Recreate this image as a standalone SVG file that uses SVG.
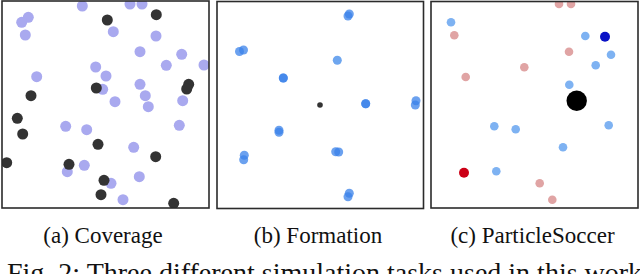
<svg xmlns="http://www.w3.org/2000/svg" width="640" height="274" viewBox="0 0 640 274">
<style>
.frame{fill:none;stroke:#2b2b2b;stroke-width:1.6}
.cv{fill:#a9a9ef}
.dk{fill:#333333}
.fm{fill:#3a82ea;fill-opacity:0.75}
.fl{fill:#6ea6ef}
.sb{fill:#7eb2f2}
.sp{fill:#e0a4a4}
.cap{font-family:'Liberation Serif','Times New Roman',serif;font-size:23px;fill:#111}
.fig{font-family:'Liberation Serif','Times New Roman',serif;font-size:28px;fill:#111}
</style>
<rect width="640" height="274" fill="#fff"/>
<g id="panel-coverage">
<defs><clipPath id="ca"><rect x="2" y="1" width="207" height="207"/></clipPath></defs>
<g clip-path="url(#ca)">
<g class="cv">
<circle cx="82.3" cy="6" r="5.5"/><circle cx="130" cy="4" r="5.5"/><circle cx="142" cy="4" r="5.5"/>
<circle cx="28.3" cy="17.3" r="5.5"/><circle cx="21.7" cy="22.3" r="5.5"/><circle cx="25.3" cy="35" r="5.5"/>
<circle cx="113.3" cy="31.7" r="5.5"/><circle cx="156" cy="36" r="5.5"/><circle cx="140" cy="51.7" r="5.5"/>
<circle cx="181.7" cy="54.3" r="5.5"/><circle cx="166.3" cy="65.3" r="5.5"/><circle cx="204" cy="65" r="5.5"/>
<circle cx="95.7" cy="67" r="5.5"/><circle cx="36.7" cy="76.7" r="5.5"/><circle cx="106" cy="76" r="5.5"/>
<circle cx="140" cy="84.3" r="5.5"/><circle cx="102.7" cy="89.3" r="5.5"/><circle cx="145.3" cy="95.7" r="5.5"/>
<circle cx="115" cy="101.7" r="5.5"/><circle cx="148.3" cy="106.7" r="5.5"/><circle cx="182.7" cy="100.7" r="5.5"/>
<circle cx="65.7" cy="126.3" r="5.5"/><circle cx="86.7" cy="129.7" r="5.5"/><circle cx="179.3" cy="125.3" r="5.5"/>
<circle cx="133.7" cy="147.3" r="5.5"/><circle cx="84.3" cy="165.3" r="5.5"/><circle cx="67.3" cy="171.7" r="5.5"/>
<circle cx="139.3" cy="176.7" r="5.5"/><circle cx="111" cy="183.3" r="5.5"/><circle cx="123" cy="199.7" r="5.5"/>
</g>
<g class="dk">
<circle cx="107.3" cy="20" r="5.5"/><circle cx="156.3" cy="14.7" r="5.5"/><circle cx="188.7" cy="84.3" r="5.5"/>
<circle cx="186.7" cy="89" r="5.5"/><circle cx="96.3" cy="88" r="5.5"/><circle cx="31" cy="95.7" r="5.5"/>
<circle cx="17.3" cy="118.3" r="5.5"/><circle cx="22.7" cy="134" r="5.5"/><circle cx="98" cy="144.3" r="5.5"/>
<circle cx="155.7" cy="156.7" r="5.5"/><circle cx="6.7" cy="162.7" r="5.5"/><circle cx="69" cy="164.3" r="5.5"/>
<circle cx="104" cy="180.3" r="5.5"/><circle cx="101" cy="194.7" r="5.5"/><circle cx="173.7" cy="203.3" r="5.5"/>
</g>
</g>
<rect class="frame" x="2" y="1" width="207" height="207"/>
</g>
<g id="panel-formation">
<g class="fm">
<circle cx="348" cy="16" r="4.5"/><circle cx="349.3" cy="14" r="4.5"/>
<circle cx="239.5" cy="51.5" r="4.5"/><circle cx="243.5" cy="50" r="4.5"/>
<circle cx="283.3" cy="78" r="4.5"/><circle cx="283.3" cy="78" r="4.5"/>
<circle cx="365.7" cy="103.7" r="4.5"/><circle cx="365.7" cy="103.7" r="4.5"/>
<circle cx="416" cy="100.7" r="4.5"/><circle cx="415.3" cy="105" r="4.5"/>
<circle cx="279" cy="130.3" r="4.5"/><circle cx="279" cy="132.3" r="4.5"/>
<circle cx="244.3" cy="155.3" r="4.5"/><circle cx="243.7" cy="159.7" r="4.5"/>
<circle cx="335.7" cy="151.7" r="4.5"/><circle cx="338.7" cy="152" r="4.5"/>
<circle cx="349.3" cy="193.3" r="4.5"/><circle cx="348" cy="196.7" r="4.5"/>
</g>
<circle class="fl" cx="337.3" cy="60.3" r="4.5"/>
<circle class="dk" cx="320" cy="105" r="2.8"/>
<rect class="frame" x="217" y="1.5" width="206.5" height="207"/>
</g>
<g id="panel-soccer">
<defs><clipPath id="cc"><rect x="431" y="1" width="207" height="207"/></clipPath></defs>
<g clip-path="url(#cc)">
<g class="sp">
<circle cx="559" cy="4" r="4.3"/><circle cx="571" cy="4" r="4.3"/><circle cx="454.3" cy="35.3" r="4.3"/>
<circle cx="569" cy="51.7" r="4.3"/><circle cx="524.3" cy="67.3" r="4.3"/><circle cx="465.7" cy="77" r="4.3"/>
<circle cx="539.7" cy="183.3" r="4.3"/><circle cx="552.3" cy="199.7" r="4.3"/>
</g>
<g class="sb">
<circle cx="451" cy="22.3" r="4.3"/><circle cx="585.3" cy="36" r="4.3"/><circle cx="611" cy="54.7" r="4.3"/>
<circle cx="595.7" cy="65.3" r="4.3"/><circle cx="569.3" cy="84.7" r="4.3"/><circle cx="608.7" cy="125.3" r="4.3"/>
<circle cx="494.3" cy="126.3" r="4.3"/><circle cx="515.7" cy="129.3" r="4.3"/><circle cx="563" cy="147.3" r="4.3"/>
<circle cx="496.3" cy="171.3" r="4.3"/>
</g>
<circle cx="605" cy="36.7" r="5" fill="#0a12c6"/>
<circle cx="464" cy="172.7" r="5" fill="#cc0016"/>
<circle cx="576.7" cy="100.7" r="10.2" fill="#000"/>
</g>
<rect class="frame" x="431" y="1.5" width="207" height="206.5"/>
</g>
<g id="captions">
<text class="cap" font-family="Liberation Serif, serif" x="103" y="243" text-anchor="middle">(a) Coverage</text>
<text class="cap" font-family="Liberation Serif, serif" x="318" y="243" text-anchor="middle">(b) Formation</text>
<text class="cap" font-family="Liberation Serif, serif" x="532.5" y="243" text-anchor="middle">(c) ParticleSoccer</text>
<text class="fig" font-family="Liberation Serif, serif" x="7" y="282">Fig. 2: Three different simulation tasks used in this work.</text>
</g>
</svg>
